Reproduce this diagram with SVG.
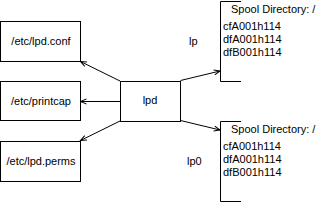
<svg xmlns="http://www.w3.org/2000/svg" width="322" height="202" viewBox="0 0 322 202">
<style>
.box{fill:#fff;stroke:#000;stroke-width:1}
.br{fill:none;stroke:#000;stroke-width:1}
.t{font-family:"Liberation Sans",Arial,sans-serif;font-size:11px;fill:#000}
.m{text-anchor:middle}
.c{stroke:#000;stroke-width:1;fill:none;marker-end:url(#ah)}
</style>
<defs>
<marker id="ah" markerWidth="8" markerHeight="8" refX="7" refY="4" orient="auto" markerUnits="userSpaceOnUse">
<path d="M1,1.5 L7,4 L1,6.5" fill="none" stroke="#000" stroke-width="1"/>
</marker>
</defs>
<rect width="322" height="202" fill="#fff"/>
<g id="connectors">
<line class="c" x1="120" y1="81" x2="80.5" y2="61.5"/>
<line class="c" x1="120" y1="101.5" x2="80.5" y2="101.5"/>
<line class="c" x1="120" y1="121" x2="80.5" y2="140.5"/>
<line class="c" x1="180.5" y1="80.5" x2="220" y2="71"/>
<line class="c" x1="180.5" y1="120.5" x2="220" y2="130"/>
</g>
<g id="lpdconf">
<rect class="box" x="0.5" y="21.5" width="80" height="40"/>
<text class="t m" x="41" y="45">/etc/lpd.conf</text>
</g>
<g id="printcap">
<rect class="box" x="0.5" y="81.5" width="80" height="39"/>
<text class="t m" x="41" y="105">/etc/printcap</text>
</g>
<g id="lpdperms">
<rect class="box" x="0.5" y="141.5" width="80" height="40"/>
<text class="t m" x="41" y="165">/etc/lpd.perms</text>
</g>
<g id="lpd">
<rect class="box" x="120.5" y="81.5" width="60" height="40"/>
<text class="t m" x="150" y="104">lpd</text>
</g>
<g id="spool1">
<path class="br" d="M241,1.5 H220.5 V81.5 H241"/>
<text class="t" x="231" y="13">Spool Directory: /</text>
<text class="t" x="223" y="30">cfA001h114</text>
<text class="t" x="223" y="43">dfA001h114</text>
<text class="t" x="223" y="56">dfB001h114</text>
</g>
<g id="spool2">
<path class="br" d="M241,121.5 H220.5 V201.5 H241"/>
<text class="t" x="231" y="133">Spool Directory: /</text>
<text class="t" x="223" y="150">cfA001h114</text>
<text class="t" x="223" y="163">dfA001h114</text>
<text class="t" x="223" y="176">dfB001h114</text>
</g>
<g id="label-lp">
<text class="t" x="189" y="45">lp</text>
</g>
<g id="label-lp0">
<text class="t" x="187" y="165">lp0</text>
</g>
</svg>
